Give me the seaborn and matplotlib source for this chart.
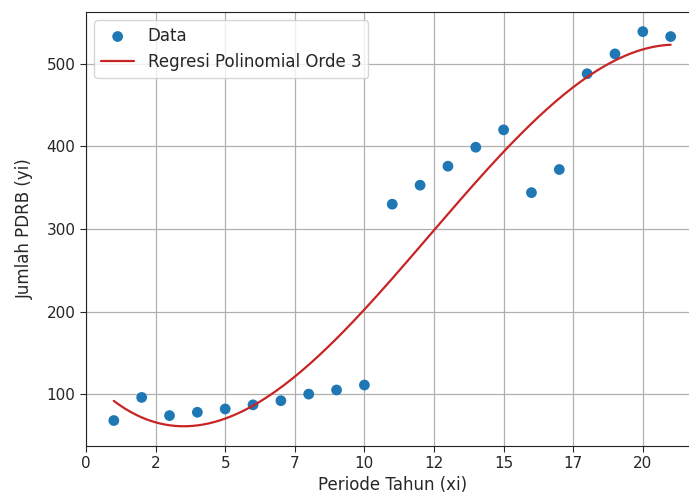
import numpy as np
import pandas as pd
import matplotlib
matplotlib.use("Agg")
import matplotlib.pyplot as plt
import seaborn as sns
from matplotlib.ticker import FormatStrFormatter

# Data
periode = [1, 2, 3, 4, 5, 6, 7, 8, 9, 10, 11, 12, 13, 14, 15, 16, 17, 18, 19, 20, 21]
pdrb = [68, 96, 74, 78, 82, 87, 92, 100, 105, 111, 330, 353, 376, 399, 420,
        344, 372, 488, 512, 539, 533]

x_label = "Periode Tahun (xi)"
y_label = "Jumlah PDRB (yi)"
label_data = "Data"
label_fit = "Regresi Polinomial Orde 3"

sns.set_style("ticks")
plt.rcParams["font.family"] = ["DejaVu Sans"]
plt.rcParams["font.size"] = 11

df = pd.DataFrame({"x": periode, "y": pdrb})
coef = np.polyfit(df["x"], df["y"], 3)
xs = np.linspace(min(periode), max(periode), 200)
fit = pd.DataFrame({"x": xs, "y": np.polyval(coef, xs)})

fig = plt.figure(figsize=(6.89, 4.95), dpi=100)
ax = fig.add_axes([0.1248, 0.099, 0.889, 0.877])

sns.scatterplot(data=df, x="x", y="y", ax=ax, s=60, color="#1f77b4",
                edgecolor="none", label=label_data, zorder=3)
sns.lineplot(data=fit, x="x", y="y", ax=ax, color="#c82424", linewidth=1.6,
             label=label_fit, zorder=4)

ax.grid(True, color="#b0b0b0", linewidth=0.9)
ax.set_axisbelow(True)
ax.xaxis.set_major_formatter(FormatStrFormatter("%d"))
ax.set_xlabel(x_label, fontsize=12, labelpad=3)
ax.set_ylabel(y_label, fontsize=12, labelpad=9)
ax.tick_params(labelsize=11, length=4)
for s in ax.spines.values():
    s.set_visible(True)
    s.set_color("#222222")
ax.legend(loc="upper left", fontsize=12, borderaxespad=0.5)

fig.savefig("out.png", dpi=100)
